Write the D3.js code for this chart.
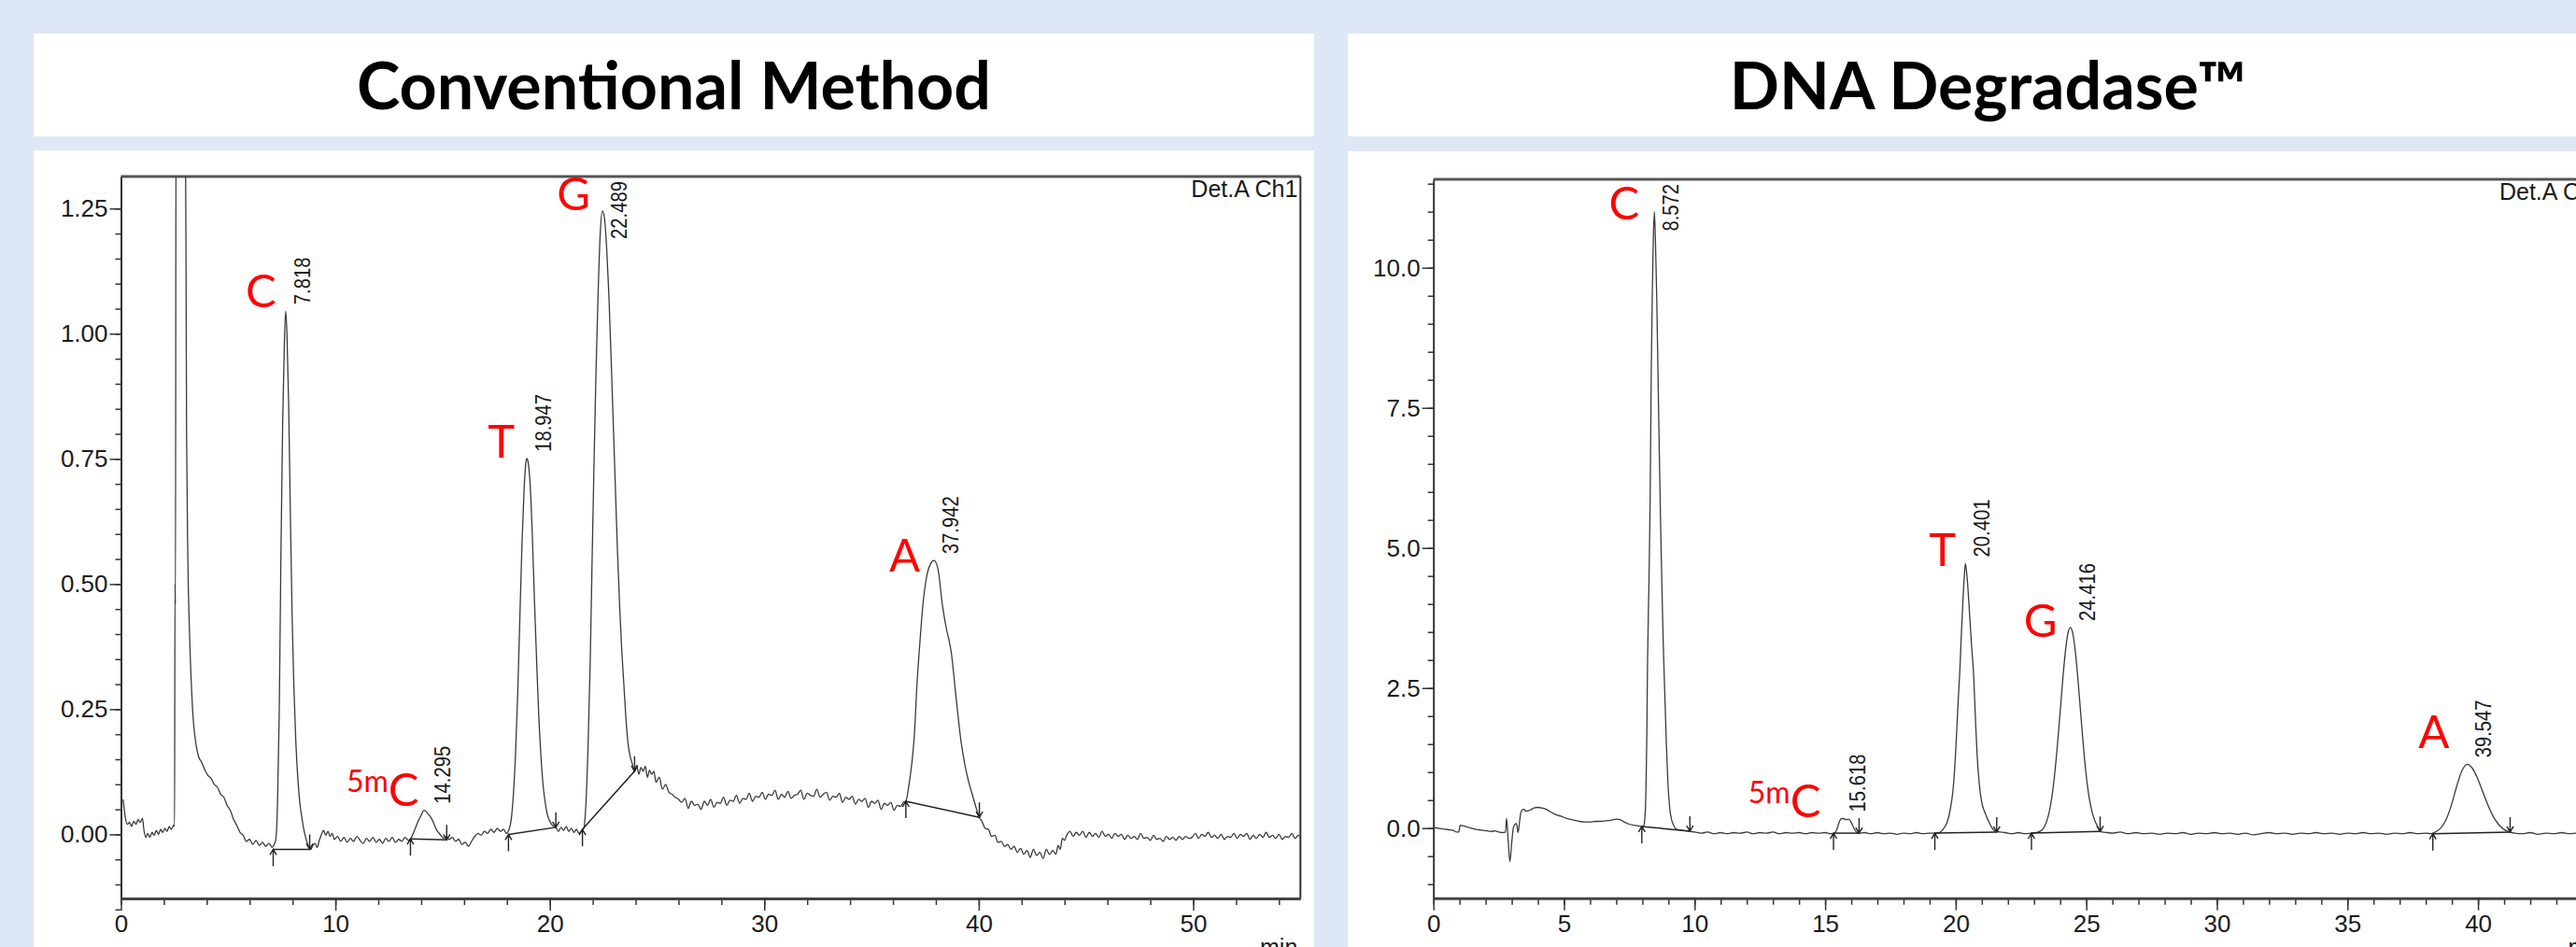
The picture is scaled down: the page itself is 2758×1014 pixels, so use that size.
<!DOCTYPE html>
<html>
<head>
<meta charset="utf-8">
<script src="https://cdn.jsdelivr.net/npm/d3@7"></script>
<style>
  html, body { margin: 0; padding: 0; overflow: hidden; background: #dee7f5; }
  svg { display: block; }
</style>
</head>
<body>
<div id="chart"></div>
<script>
// ---------- data ----------
const panelTitles = ["Conventional Method", "DNA Degradase\u2122"];

// Conventional method: [time (min), absorbance]
const convTrace = [
  [0.1,0.07],[0.2,0.035],[0.3,0.02],[0.4,0.024],[0.5,0.016],[0.6,0.026],[0.7,0.02],[0.8,0.03],[0.9,0.024],[1.0,0.032],
  [1.08,0.006],[1.16,-0.006],[1.25,0.002],[1.35,-0.006],[1.45,0.004],[1.55,-0.002],[1.65,0.008],[1.75,0.0],[1.85,0.01],
  [1.95,0.004],[2.05,0.012],[2.15,0.006],[2.25,0.016],[2.35,0.01],[2.45,0.018],[2.5,0.016],[2.52,0.5],[2.54,0.46],
  [2.57,1.5],[3.0,1.5],[3.06,0.8],[3.12,0.55],[3.2,0.4],[3.34,0.25],[3.5,0.18],[3.62,0.155],[3.75,0.145],[3.9,0.13],
  [4.05,0.118],[4.2,0.112],[4.35,0.1],[4.5,0.094],[4.65,0.08],[4.8,0.074],[4.95,0.058],[5.1,0.048],[5.25,0.03],
  [5.4,0.018],[5.55,0.004],[5.7,-0.002],[5.85,-0.014],[6.0,-0.01],[6.15,-0.02],[6.3,-0.012],[6.45,-0.022],[6.6,-0.016],
  [6.75,-0.024],[6.9,-0.018],[7.05,-0.026],[7.15,-0.02],
  [7.22,-0.01],[7.3,0.06],[7.38,0.24],[7.46,0.56],[7.54,0.82],[7.62,0.98],[7.68,1.045],[7.74,1.0],[7.82,0.86],[7.9,0.64],
  [7.98,0.44],[8.06,0.3],[8.15,0.19],[8.25,0.11],[8.35,0.06],[8.45,0.03],[8.55,0.005],[8.65,-0.012],[8.75,-0.024],
  [8.85,-0.03],[8.95,-0.022],
  [9.05,-0.018],[9.15,-0.026],[9.25,-0.012],[9.35,0.0],[9.45,0.008],[9.55,-0.002],[9.65,0.006],[9.75,-0.004],[9.85,0.002],
  [9.95,-0.01],[10.1,-0.004],[10.25,-0.014],[10.4,-0.006],[10.55,-0.016],[10.7,-0.008],[10.85,-0.014],[11.0,-0.004],
  [11.15,-0.012],[11.3,-0.018],[11.45,-0.008],[11.6,-0.014],[11.75,-0.006],[11.9,-0.016],[12.05,-0.01],[12.2,-0.018],
  [12.35,-0.008],[12.5,-0.014],[12.65,-0.006],[12.8,-0.016],[12.95,-0.01],[13.1,-0.014],[13.25,-0.006],[13.4,-0.012],
  [13.52,-0.008],
  [13.65,0.004],[13.78,0.018],[13.9,0.03],[14.02,0.04],[14.12,0.048],[14.2,0.047],[14.3,0.042],[14.42,0.036],[14.55,0.026],
  [14.68,0.012],[14.8,0.004],[14.92,-0.002],[15.05,-0.008],[15.18,-0.004],[15.3,-0.01],[15.45,-0.006],[15.6,-0.014],
  [15.75,-0.01],[15.9,-0.02],[16.05,-0.016],[16.2,-0.024],[16.35,-0.014],[16.5,-0.004],[16.65,0.002],[16.8,-0.002],
  [16.95,0.006],[17.1,0.002],[17.25,0.01],[17.4,0.004],[17.55,0.012],[17.7,0.006],[17.85,0.01],[17.97,0.002],
  [18.1,0.01],[18.2,0.03],[18.3,0.08],[18.4,0.16],[18.5,0.28],[18.6,0.43],[18.7,0.58],[18.8,0.69],[18.88,0.742],
  [18.93,0.751],[18.98,0.745],[19.08,0.7],[19.18,0.6],[19.28,0.47],[19.38,0.35],[19.48,0.24],[19.58,0.16],[19.68,0.1],
  [19.78,0.065],[19.88,0.04],[19.98,0.028],[20.08,0.02],[20.18,0.016],[20.28,0.014],
  [20.4,0.006],[20.52,0.014],[20.64,0.008],[20.76,0.016],[20.88,0.006],[21.0,0.012],[21.12,0.004],[21.24,0.01],
  [21.36,0.002],[21.48,0.008],
  [21.58,0.012],[21.68,0.06],[21.78,0.174],[21.88,0.34],[21.97,0.547],[22.05,0.72],[22.15,0.92],[22.25,1.08],[22.35,1.2],
  [22.45,1.245],[22.55,1.23],[22.65,1.17],[22.75,1.08],[22.85,0.96],[22.95,0.83],[23.05,0.7],[23.15,0.57],[23.25,0.46],
  [23.35,0.37],[23.45,0.3],[23.55,0.23],[23.65,0.18],[23.75,0.155],[23.85,0.14],[23.95,0.126],
  [24.05,0.138],[24.15,0.12],[24.25,0.134],[24.35,0.126],[24.45,0.136],[24.55,0.114],[24.65,0.128],[24.75,0.12],
  [24.85,0.126],[24.95,0.104],[25.1,0.114],[25.25,0.09],[25.4,0.1],[25.55,0.084],[25.7,0.08],[25.85,0.074],[26.0,0.07],
  [26.15,0.064],[26.3,0.072],[26.45,0.052],[26.6,0.066],[26.75,0.058],[26.9,0.06],[27.05,0.05],[27.2,0.066],[27.35,0.058],
  [27.5,0.07],[27.65,0.054],[27.8,0.064],[27.95,0.062],[28.1,0.074],[28.25,0.058],[28.4,0.068],[28.55,0.066],[28.7,0.078],
  [28.85,0.062],[29.0,0.072],[29.15,0.07],[29.3,0.082],[29.45,0.066],[29.6,0.076],[29.75,0.074],[29.9,0.084],[30.05,0.07],
  [30.2,0.08],[30.35,0.078],[30.5,0.088],[30.65,0.07],[30.8,0.08],[30.95,0.074],[31.1,0.086],[31.25,0.072],[31.4,0.078],
  [31.55,0.08],[31.7,0.088],[31.85,0.07],[32.0,0.082],[32.15,0.078],[32.3,0.076],[32.45,0.09],[32.6,0.074],[32.75,0.08],
  [32.9,0.084],[33.05,0.068],[33.2,0.076],[33.35,0.074],[33.5,0.082],[33.65,0.064],[33.8,0.074],[33.95,0.07],[34.1,0.076],
  [34.25,0.06],[34.4,0.07],[34.55,0.066],[34.7,0.072],[34.85,0.054],[35.0,0.066],[35.15,0.062],[35.3,0.068],[35.45,0.05],
  [35.6,0.062],[35.75,0.058],[35.9,0.064],[36.05,0.048],[36.2,0.058],[36.35,0.056],[36.5,0.064],[36.6,0.066],
  [36.75,0.1],[36.9,0.15],[37.0,0.2],[37.12,0.3],[37.25,0.38],[37.4,0.46],[37.55,0.51],[37.75,0.54],[37.92,0.547],
  [38.1,0.53],[38.3,0.46],[38.45,0.42],[38.73,0.36],[38.95,0.27],[39.17,0.187],[39.35,0.14],[39.49,0.112],[39.73,0.075],
  [39.9,0.05],[40.03,0.034],
  [40.15,0.026],[40.3,0.012],[40.45,0.01],[40.6,-0.004],[40.75,-0.002],[40.9,-0.016],[41.05,-0.014],[41.2,-0.024],
  [41.35,-0.02],[41.5,-0.03],[41.65,-0.024],[41.8,-0.036],[41.95,-0.028],[42.1,-0.04],[42.25,-0.032],[42.4,-0.046],
  [42.55,-0.03],[42.7,-0.042],[42.85,-0.036],[43.0,-0.048],[43.15,-0.03],[43.3,-0.04],[43.45,-0.032],[43.6,-0.04],
  [43.7,-0.022],[43.8,-0.03],[43.9,-0.008],[44.0,-0.012],[44.1,-0.002],[44.25,0.006],[44.4,-0.004],[44.55,0.004],
  [44.7,-0.002],[44.85,0.006],[45.0,-0.006],[45.15,0.004],[45.3,-0.004],[45.45,0.002],[45.6,-0.006],[45.75,0.006],
  [45.9,-0.004],[46.05,0.0],[46.2,-0.008],[46.35,0.002],[46.5,-0.004],[46.65,0.0],[46.8,-0.01],[46.95,-0.002],[47.1,-0.008],
  [47.25,-0.004],[47.4,-0.01],[47.55,0.002],[47.7,-0.008],[47.85,-0.006],[48.0,-0.012],[48.15,-0.002],[48.3,-0.01],
  [48.45,-0.008],[48.6,-0.014],[48.75,-0.004],[48.9,-0.01],[49.05,-0.006],[49.2,-0.012],[49.35,-0.004],[49.5,-0.01],
  [49.65,-0.004],[49.8,-0.008],[49.95,-0.006],[50.1,0.002],[50.25,-0.008],[50.4,0.0],[50.55,-0.004],[50.7,0.004],
  [50.85,-0.006],[51.0,-0.002],[51.15,-0.008],[51.3,0.0],[51.45,-0.01],[51.6,-0.004],[51.75,-0.006],[51.9,0.002],
  [52.05,-0.008],[52.2,0.0],[52.35,-0.004],[52.5,0.002],[52.65,-0.01],[52.8,-0.002],[52.95,-0.008],[53.1,0.0],
  [53.25,-0.006],[53.4,0.004],[53.55,-0.006],[53.7,-0.002],[53.85,-0.008],[54.0,0.0],[54.15,-0.01],[54.3,-0.004],
  [54.45,-0.006],[54.6,0.002],[54.75,-0.008],[54.9,-0.002],[55.0,-0.006]
];
const convPeaks = [
  {name: "C",   rt: "7.818",  t: 7.68,  v: 1.045},
  {name: "5mC", rt: "14.295", t: 14.2,  v: 0.048},
  {name: "T",   rt: "18.947", t: 18.93, v: 0.751},
  {name: "G",   rt: "22.489", t: 22.45, v: 1.245},
  {name: "A",   rt: "37.942", t: 37.92, v: 0.547}
];
// integration baselines: [t start, v start, t end, v end]
const convBaselines = [
  [7.1,-0.03,8.8,-0.03],[13.5,-0.009,15.19,-0.011],[18.07,0.0,20.28,0.014],[21.52,0.01,23.95,0.126],[36.6,0.066,40.03,0.034]
];
const convYTicks = [0, 0.25, 0.5, 0.75, 1.0, 1.25];
const convXTicks = [0, 10, 20, 30, 40, 50];

// DNA Degradase: [time (min), absorbance]
const degTrace = [
  [0.0,0.01],[0.15,0.0],[0.3,-0.01],[0.45,-0.02],[0.6,-0.03],[0.75,-0.04],[0.9,-0.07],[0.97,-0.07],[1.02,0.05],[1.15,0.04],
  [1.3,0.02],[1.45,0.0],[1.6,-0.02],[1.75,-0.03],[1.9,-0.04],[2.05,-0.05],[2.2,-0.06],[2.35,-0.05],[2.5,-0.07],[2.65,-0.08],
  [2.76,-0.07],[2.8,0.17],[2.86,-0.2],[2.93,-0.6],[3.0,-0.25],[3.06,0.0],[3.12,0.07],[3.18,0.08],[3.24,-0.08],[3.3,0.12],
  [3.36,0.3],[3.45,0.34],[3.55,0.3],[3.7,0.32],[3.85,0.36],[4.0,0.37],[4.15,0.36],[4.3,0.34],[4.45,0.3],[4.6,0.26],
  [4.75,0.23],[4.9,0.21],[5.05,0.18],[5.2,0.16],[5.4,0.14],[5.6,0.12],[5.8,0.11],[6.0,0.11],[6.2,0.12],[6.4,0.12],
  [6.6,0.13],[6.8,0.14],[7.0,0.16],[7.15,0.15],[7.3,0.11],[7.5,0.07],[7.7,0.05],[7.85,0.04],
  [8.0,0.03],[8.05,0.04],[8.1,0.2],[8.14,0.7],[8.17,1.6],[8.2,3.0],[8.25,4.3],[8.3,5.9],[8.34,8.1],[8.38,9.5],[8.42,10.5],
  [8.46,11.0],[8.5,10.5],[8.55,9.5],[8.6,8.1],[8.65,6.7],[8.7,5.4],[8.75,4.3],[8.8,3.3],[8.86,2.4],[8.92,1.5],[8.98,0.8],
  [9.05,0.35],[9.12,0.15],[9.2,0.05],[9.3,-0.02],[9.5,-0.04],[9.7,-0.05],[9.85,-0.06],
  [10.0,-0.07],[10.25,-0.09],[10.5,-0.07],[10.75,-0.1],[11.0,-0.08],[11.25,-0.1],[11.5,-0.08],[11.75,-0.09],[12.0,-0.07],
  [12.25,-0.1],[12.5,-0.08],[12.75,-0.09],[13.0,-0.07],[13.25,-0.1],[13.5,-0.08],[13.75,-0.09],[14.0,-0.08],[14.25,-0.1],
  [14.5,-0.08],[14.75,-0.09],[15.0,-0.08],[15.2,-0.1],[15.35,-0.09],
  [15.45,-0.02],[15.55,0.12],[15.62,0.17],[15.7,0.17],[15.8,0.15],[15.9,0.16],[16.0,0.1],[16.1,0.0],[16.2,-0.07],[16.3,-0.09],
  [16.5,-0.08],[16.75,-0.1],[17.0,-0.08],[17.25,-0.1],[17.5,-0.09],[17.75,-0.11],[18.0,-0.09],[18.25,-0.1],[18.5,-0.08],
  [18.75,-0.1],[19.0,-0.09],[19.2,-0.09],
  [19.38,-0.08],[19.55,0.0],[19.65,0.08],[19.74,0.22],[19.85,0.5],[19.92,0.8],[19.98,1.22],[20.04,1.75],[20.1,2.32],
  [20.16,2.83],[20.22,3.5],[20.28,4.1],[20.33,4.5],[20.37,4.72],[20.44,4.45],[20.52,3.9],[20.6,3.3],[20.69,2.7],[20.76,1.9],
  [20.82,1.3],[20.9,0.8],[21.0,0.45],[21.1,0.3],[21.17,0.22],[21.3,0.08],[21.42,-0.02],[21.53,-0.06],[21.7,-0.07],
  [21.9,-0.08],[22.15,-0.1],[22.4,-0.08],[22.65,-0.1],[22.9,-0.09],[23.1,-0.08],
  [23.29,-0.04],[23.39,0.02],[23.49,0.13],[23.59,0.31],[23.69,0.58],[23.79,0.97],[23.89,1.46],[23.99,2.02],[24.09,2.6],
  [24.19,3.11],[24.29,3.46],[24.39,3.58],[24.49,3.46],[24.59,3.11],[24.69,2.6],[24.79,2.02],[24.89,1.46],[24.99,0.97],
  [25.09,0.6],[25.19,0.35],[25.29,0.18],[25.4,0.06],[25.5,-0.03],[25.6,-0.07],
  [25.8,-0.08],[26.0,-0.09],[26.3,-0.07],[26.6,-0.1],[26.9,-0.08],[27.2,-0.1],[27.5,-0.09],[27.8,-0.11],[28.1,-0.09],
  [28.4,-0.1],[28.7,-0.08],[29.0,-0.11],[29.3,-0.09],[29.6,-0.1],[29.9,-0.08],[30.2,-0.1],[30.5,-0.09],[30.8,-0.11],
  [31.1,-0.09],[31.4,-0.12],[31.7,-0.1],[32.0,-0.08],[32.3,-0.1],[32.6,-0.09],[32.9,-0.11],[33.2,-0.09],[33.5,-0.1],
  [33.8,-0.08],[34.1,-0.1],[34.4,-0.09],[34.7,-0.11],[35.0,-0.09],[35.3,-0.1],[35.6,-0.08],[35.9,-0.1],[36.2,-0.09],
  [36.5,-0.11],[36.8,-0.09],[37.1,-0.1],[37.4,-0.08],[37.7,-0.1],[38.0,-0.09],[38.2,-0.1],
  [38.38,-0.065],[38.58,0.005],[38.78,0.155],[38.98,0.41],[39.18,0.74],[39.38,1.02],[39.58,1.14],[39.78,1.07],[39.98,0.89],
  [40.18,0.65],[40.38,0.41],[40.58,0.21],[40.78,0.07],[40.98,-0.02],[41.18,-0.065],
  [41.4,-0.09],[41.7,-0.1],[42.0,-0.08],[42.3,-0.11],[42.6,-0.09],[42.9,-0.1],[43.2,-0.08],[43.5,-0.1],[43.8,-0.09],
  [44.1,-0.11],[44.4,-0.09],[44.7,-0.1],[45.0,-0.09]
];
const degPeaks = [
  {name: "C",   rt: "8.572",  t: 8.46,  v: 11.0},
  {name: "5mC", rt: "15.618", t: 15.62, v: 0.17},
  {name: "T",   rt: "20.401", t: 20.37, v: 4.72},
  {name: "G",   rt: "24.416", t: 24.39, v: 3.58},
  {name: "A",   rt: "39.547", t: 39.58, v: 1.14}
];
const degBaselines = [
  [7.98,0.03,9.82,-0.055],[15.32,-0.09,16.3,-0.09],[19.2,-0.09,21.57,-0.07],[22.9,-0.09,25.53,-0.06],[38.27,-0.1,41.23,-0.07]
];
const degYTicks = [0, 2.5, 5.0, 7.5, 10.0];
const degXTicks = [0, 5, 10, 15, 20, 25, 30, 35, 40, 45];

// ---------- layout ----------
const W = 2758, H = 1014;
const numFont = "'Liberation Sans', Arial, sans-serif";
const letterFont = "Lato, 'Open Sans', sans-serif";

// where the red base letters sit relative to each apex (px: gap left of apex, baseline shift)
const letterNudge = {
  conv: {C: [10, -4], "5mC": [7, -5], T: [13, -1], G: [13, -1], A: [15, 12]},
  deg:  {C: [16, 8], "5mC": [22, -2], T: [10, 2], G: [14, 10], A: [19, -17]}
};

const svg = d3.select('#chart').append('svg')
  .attr('width', W)
  .attr('height', H);

svg.append('rect').attr('width', W).attr('height', H).attr('fill', '#dee7f5');

const panels = [
  {x: 36, y: 36, w: 1371, h: 110}, {x: 1443, y: 36, w: 1371, h: 110},
  {x: 36, y: 161, w: 1371, h: 900}, {x: 1443, y: 162, w: 1371, h: 900}
];
svg.selectAll('rect.panel').data(panels).enter().append('rect')
  .attr('class', 'panel')
  .attr('x', d => d.x).attr('y', d => d.y)
  .attr('width', d => d.w).attr('height', d => d.h)
  .attr('fill', '#ffffff');

svg.selectAll('text.title').data(panelTitles).enter().append('text')
  .attr('class', 'title')
  .attr('x', (d, i) => panels[i].x + panels[i].w / 2)
  .attr('y', 117)
  .attr('text-anchor', 'middle')
  .attr('font-family', letterFont)
  .attr('font-weight', 700)
  .attr('font-size', 70)
  .attr('fill', '#000')
  .text(d => d);

const chromatogram = function(opt) {

  const g = svg.append('g');

  const xScale = d3.scaleLinear().domain(opt.xDomain).range(opt.xRange);
  const yScale = d3.scaleLinear().domain(opt.yDomain).range(opt.yRange);

  const left = opt.xRange[0], right = opt.xRange[1];
  const top = opt.yRange[1], bottom = opt.yRange[0];

  g.append('clipPath').attr('id', 'clip-' + opt.id)
    .append('rect')
      .attr('x', left).attr('y', top)
      .attr('width', right - left).attr('height', bottom - top);

  // frame: heavy top rule and a thin right edge
  g.append('line')
    .attr('x1', left).attr('x2', right).attr('y1', top).attr('y2', top)
    .attr('stroke', '#555').attr('stroke-width', 3);
  g.append('line')
    .attr('x1', right).attr('x2', right).attr('y1', top).attr('y2', bottom)
    .attr('stroke', '#333').attr('stroke-width', 2);

  // y axis
  const yMinor = d3.range(opt.yDomain[0], opt.yDomain[1], opt.yMinorStep)
    .map(v => Math.round(v / opt.yMinorStep) * opt.yMinorStep);
  const yMinorG = g.append('g').attr('transform', `translate(${left},0)`)
    .call(d3.axisLeft(yScale).tickValues(yMinor).tickSize(6).tickFormat(''));
  yMinorG.select('.domain').remove();

  const yAxisG = g.append('g').attr('transform', `translate(${left},0)`)
    .call(d3.axisLeft(yScale)
      .tickValues(opt.yTicks)
      .tickFormat(d3.format(opt.yFormat))
      .tickSize(12)
      .tickPadding(2)
      .tickSizeOuter(0));
  yAxisG.select('.domain').attr('stroke', '#333').attr('stroke-width', 2);

  // x axis
  const xMinor = d3.range(0, opt.xDomain[1] + 0.001, opt.xMinorStep);
  const xMinorG = g.append('g').attr('transform', `translate(0,${bottom})`)
    .call(d3.axisBottom(xScale).tickValues(xMinor).tickSize(7).tickFormat(''));
  xMinorG.select('.domain').remove();

  const xAxisG = g.append('g').attr('transform', `translate(0,${bottom})`)
    .call(d3.axisBottom(xScale)
      .tickValues(opt.xTicks)
      .tickSize(13)
      .tickPadding(5)
      .tickSizeOuter(0));
  xAxisG.select('.domain').attr('stroke', '#444').attr('stroke-width', 3);

  [yMinorG, yAxisG, xMinorG, xAxisG].forEach(a => {
    a.attr('font-family', numFont).attr('font-size', 26);
    a.selectAll('.tick line').attr('stroke', '#333').attr('stroke-width', 1.5);
    a.selectAll('.tick text').attr('fill', '#1a1a1a');
  });

  // detector trace
  const line = d3.line()
    .x(d => xScale(d[0]))
    .y(d => yScale(d[1]))
    .curve(d3.curveMonotoneX);

  g.append('path')
    .datum(opt.trace)
    .attr('clip-path', `url(#clip-${opt.id})`)
    .attr('d', line)
    .attr('fill', 'none')
    .attr('stroke', '#3a3a3a')
    .attr('stroke-width', 1.3);

  // integration baselines with start/end arrows
  opt.baselines.forEach(b => {
    const x0 = xScale(b[0]), y0 = yScale(b[1]);
    const x1 = xScale(b[2]), y1 = yScale(b[3]);
    g.append('line')
      .attr('x1', x0).attr('y1', y0).attr('x2', x1).attr('y2', y1)
      .attr('stroke', '#222').attr('stroke-width', 1.5);
    g.append('path')
      .attr('d', `M${x0},${y0 + 18}L${x0},${y0}M${x0 - 3.5},${y0 + 6}L${x0},${y0}L${x0 + 3.5},${y0 + 6}`)
      .attr('fill', 'none').attr('stroke', '#222').attr('stroke-width', 1.4);
    g.append('path')
      .attr('d', `M${x1},${y1 - 16}L${x1},${y1}M${x1 - 3.5},${y1 - 6}L${x1},${y1}L${x1 + 3.5},${y1 - 6}`)
      .attr('fill', 'none').attr('stroke', '#222').attr('stroke-width', 1.4);
  });

  // retention time labels, rotated, kept inside the frame
  const squeeze = 0.88;
  opt.peaks.forEach(p => {
    const px = xScale(p.t), py = yScale(p.v);
    const label = g.append('text')
      .attr('font-family', numFont)
      .attr('font-size', 23)
      .attr('fill', '#1a1a1a')
      .text(p.rt);
    const len = label.node().getComputedTextLength() * squeeze;
    const base = Math.max(py - 7, top + len + 5);
    label.attr('transform', `translate(${px + 26},${base}) rotate(-90) scale(${squeeze},1)`);
  });

  // red base letters
  opt.peaks.forEach(p => {
    const nudge = letterNudge[opt.id][p.name];
    const t = g.append('text')
      .attr('x', xScale(p.t) - nudge[0])
      .attr('y', yScale(p.v) + nudge[1])
      .attr('text-anchor', 'end')
      .attr('font-family', letterFont)
      .attr('font-size', 49)
      .attr('fill', '#ff0000');
    if (p.name === '5mC') {
      t.append('tspan').attr('font-size', 32).attr('dy', -15).text('5m');
      t.append('tspan').attr('dy', 15).text('C');
    } else {
      t.text(p.name);
    }
  });

  g.append('text')
    .attr('x', right - 3)
    .attr('y', top + 22)
    .attr('text-anchor', 'end')
    .attr('font-family', numFont)
    .attr('font-size', 25)
    .attr('fill', '#1a1a1a')
    .text('Det.A Ch1');

  g.append('text')
    .attr('x', right - 3)
    .attr('y', bottom + 61)
    .attr('text-anchor', 'end')
    .attr('font-family', numFont)
    .attr('font-size', 25)
    .attr('fill', '#1a1a1a')
    .text('min');
};

chromatogram({
  id: 'conv',
  trace: convTrace, peaks: convPeaks, baselines: convBaselines,
  xDomain: [0, 55], xRange: [129.5, 1392.3],
  yDomain: [-0.128, 1.314], yRange: [962, 189],
  yTicks: convYTicks, yFormat: '.2f', yMinorStep: 0.05,
  xTicks: convXTicks, xMinorStep: 2
});

chromatogram({
  id: 'deg',
  trace: degTrace, peaks: degPeaks, baselines: degBaselines,
  xDomain: [0, 45], xRange: [1534.7, 2792.9],
  yDomain: [-1.25, 11.58], yRange: [961.7, 191.9],
  yTicks: degYTicks, yFormat: '.1f', yMinorStep: 0.5,
  xTicks: degXTicks, xMinorStep: 1
});
</script>
</body>
</html>
